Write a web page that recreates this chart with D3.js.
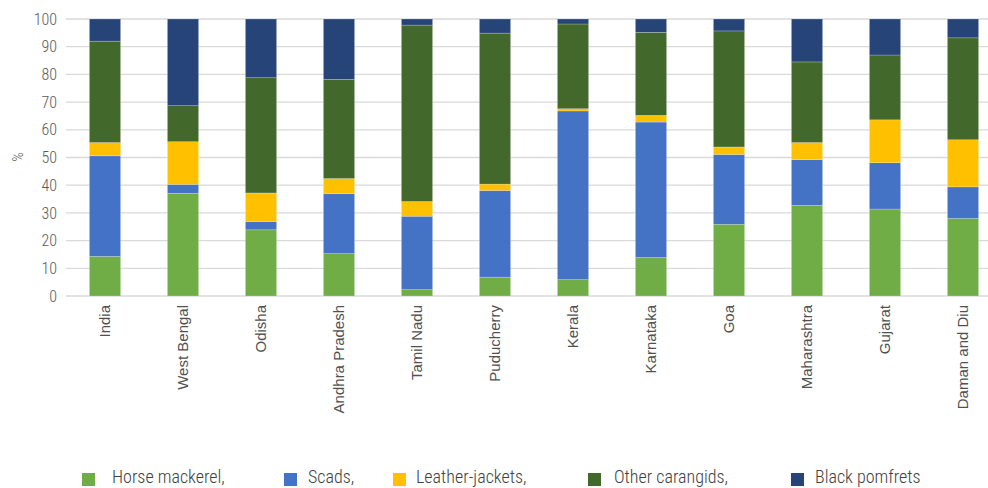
<!DOCTYPE html>
<html>
<head>
<meta charset="utf-8">
<script src="https://cdn.jsdelivr.net/npm/d3@7"></script>
<style>
  html, body { margin: 0; padding: 0; background: #fff; }
  svg { display: block; }
</style>
</head>
<body>
<svg id="chart" width="988" height="488"></svg>
<script>
// Share of carangid landings by region (%)
const regions = ["India", "West Bengal", "Odisha", "Andhra Pradesh", "Tamil Nadu", "Puducherry",
  "Kerala", "Karnataka", "Goa", "Maharashtra", "Gujarat", "Daman and Diu"];
const horseMackerel = [14.3, 37.1, 23.9, 15.3, 2.3, 6.8, 5.9, 13.9, 25.9, 32.7, 31.4, 28.0];
const scads         = [36.3, 3.2, 3.0, 21.6, 26.5, 31.3, 60.9, 48.9, 25.2, 16.5, 16.7, 11.4];
const leatherJackets= [4.8, 15.4, 10.3, 5.5, 5.3, 2.3, 0.8, 2.4, 2.7, 6.2, 15.5, 17.0];
const otherCarangids= [36.6, 13.0, 41.6, 35.8, 63.7, 54.5, 30.6, 30.0, 41.9, 29.1, 23.4, 36.8];
const blackPomfrets = [8.0, 31.3, 21.2, 21.8, 2.2, 5.1, 1.8, 4.8, 4.3, 15.5, 13.0, 6.8];
const seriesNames = ["Horse mackerel,", "Scads,", "Leather-jackets,", "Other carangids,", "Black pomfrets"];
const yTicks = [0, 10, 20, 30, 40, 50, 60, 70, 80, 90, 100];

const colors = ["#70AD47", "#4472C4", "#FFC000", "#43682B", "#264478"];
const seriesValues = [horseMackerel, scads, leatherJackets, otherCarangids, blackPomfrets];
const keys = ["h", "s", "l", "o", "b"];

const rows = regions.map((r, i) => {
  const row = { region: r };
  keys.forEach((k, j) => row[k] = seriesValues[j][i]);
  return row;
});
const stacked = d3.stack().keys(keys)(rows);

const svg = d3.select("#chart");
const plotLeft = 66, plotRight = 988, plotTop = 19, plotBottom = 296;

const x = d3.scaleBand().domain(regions).range([66, 1002]).paddingInner(0.6).paddingOuter(0.3);
const y = d3.scaleLinear().domain([0, 100]).range([plotBottom, plotTop]);

const uiFont = "'Roboto Condensed', Roboto, sans-serif";

// Horizontal gridlines
svg.append("g")
  .selectAll("line")
  .data(yTicks)
  .join("line")
  .attr("x1", plotLeft).attr("x2", plotRight)
  .attr("y1", d => y(d)).attr("y2", d => y(d))
  .attr("stroke", "#d9d9d9").attr("stroke-width", 1.3);

// Y axis labels
const yAxis = svg.append("g")
  .attr("transform", `translate(${plotLeft - 9},0)`)
  .call(d3.axisLeft(y).tickValues(yTicks).tickSize(0).tickPadding(0));
yAxis.select(".domain").remove();
yAxis.selectAll("text")
  .attr("font-family", uiFont)
  .attr("font-size", 16)
  .attr("font-weight", 300)
  .attr("fill", "#595959");

svg.append("text")
  .attr("transform", `translate(23,157) rotate(-90)`)
  .attr("text-anchor", "middle")
  .attr("font-family", uiFont)
  .attr("font-size", 15)
  .attr("font-weight", 300)
  .attr("fill", "#595959")
  .text("%");

// Stacked bars
svg.append("g")
  .selectAll("g")
  .data(stacked)
  .join("g")
  .attr("fill", (d, i) => colors[i])
  .selectAll("rect")
  .data(d => d)
  .join("rect")
  .attr("x", d => x(d.data.region))
  .attr("width", x.bandwidth())
  .attr("y", d => y(d[1]))
  .attr("height", d => y(d[0]) - y(d[1]))
  .attr("stroke", "rgba(255,255,255,0.35)")
  .attr("stroke-width", 0.6);

// Category labels
const xAxis = svg.append("g")
  .attr("transform", `translate(0,${plotBottom})`)
  .call(d3.axisBottom(x).tickSize(0).tickPadding(0));
xAxis.select(".domain").remove();
xAxis.selectAll("text")
  .attr("font-family", "'Liberation Sans', Arial, sans-serif")
  .attr("font-size", 15)
  .attr("fill", "#505050")
  .attr("text-anchor", "end")
  .attr("dy", null)
  .attr("y", 0)
  .attr("transform", "translate(5,9) rotate(-90)");

// Legend
const legendSwatchX = [82, 284, 393, 588, 791];
const legendTextX = [112, 308, 416, 614, 815];
const legend = svg.append("g");
seriesNames.forEach((name, i) => {
  legend.append("rect")
    .attr("x", legendSwatchX[i]).attr("y", 473)
    .attr("width", 13).attr("height", 13)
    .attr("fill", colors[i]);
  legend.append("text")
    .attr("x", legendTextX[i]).attr("y", 483)
    .attr("font-family", uiFont)
    .attr("font-size", 18)
    .attr("font-weight", 300)
    .attr("fill", "#404040")
    .text(name);
});
</script>
</body>
</html>
